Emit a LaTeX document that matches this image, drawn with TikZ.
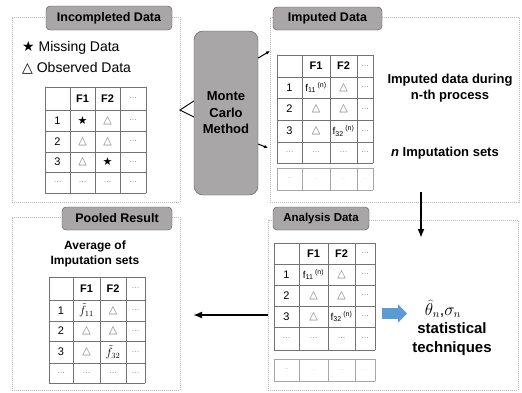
\documentclass[tikz,border=0pt]{standalone}
\usepackage{fontspec}
\setmainfont{Liberation Sans}
\newfontfamily\symfont{DejaVu Sans}
\usetikzlibrary{arrows.meta}

\definecolor{boxgray}{RGB}{168,166,166}
\definecolor{edgegray}{RGB}{80,80,80}
\definecolor{linegray}{RGB}{115,115,115}
\definecolor{arrowblue}{RGB}{91,155,213}

\newcommand{\miss}{{\symfont ★}}
\newcommand{\obs}{{\symfont\color{gray}△}}
\newcommand{\dotcell}{{\color{gray}\fontsize{8}{9}\selectfont\ldots}}
\newcommand{\faint}{{\color{gray!60}\fontsize{5}{6}\selectfont\ldots}}
\newcommand{\fimp}[1]{{\fontsize{10}{11}\selectfont f\textsubscript{#1}\,\textsuperscript{(n)}}}

\begin{document}
\begin{tikzpicture}[x=1pt,y=-1pt,
  panel/.style={draw=gray!55, dash pattern=on 1pt off 1pt, line width=0.5pt, inner sep=0},
  titlebox/.style={draw=edgegray, fill=boxgray, rounded corners=4pt, inner sep=0,
    font=\bfseries\fontsize{12.5}{14}\selectfont},
  grid/.style={draw=linegray, line width=0.6pt},
  cell/.style={inner sep=0, font=\fontsize{11}{12}\selectfont},
  hdr/.style={inner sep=0, font=\bfseries\fontsize{11}{12}\selectfont},
  note/.style={inner sep=0, align=center, font=\bfseries\fontsize{13}{15.5}\selectfont},
  thinarrow/.style={-{Latex[length=4pt,width=3.5pt]}, line width=1pt},
  bigarrow/.style={-{Latex[length=9pt,width=7pt]}, line width=1.8pt}]

\useasboundingbox (0,0) rectangle (522,392);

% riquadri tratteggiati
\node[panel, minimum width=168, minimum height=185] (inc) at (96,109.5) {};
\node[panel, minimum width=249, minimum height=185] (imp) at (394.5,109.5) {};
\node[panel, minimum width=250, minimum height=170] (ana) at (393,305) {};
\node[panel, minimum width=168, minimum height=173] (pool) at (96,303.5) {};

% titoli
\node[titlebox, minimum width=126, minimum height=24] (tinc) at (109,18) {Incompleted Data};
\node[titlebox, minimum width=109, minimum height=23] (timp) at (327.5,18.5) {Imputed Data};
\node[titlebox, minimum width=96, minimum height=23, font=\bfseries\fontsize{11.5}{13}\selectfont] (tana) at (321,218.5) {Analysis Data};
\node[titlebox, minimum width=110, minimum height=23] (tpool) at (117,218.5) {Pooled Result};

% Monte Carlo
\node[draw=edgegray, fill=boxgray, rounded corners=9pt, minimum width=64, minimum height=164,
  inner sep=0, align=center, font=\bfseries\fontsize{13}{16.5}\selectfont] (mc) at (226,113) {Monte\\Carlo\\Method};

% legenda
\node[anchor=west, inner sep=0, font=\fontsize{14}{16}\selectfont] (lmiss) at (22,48) {\miss\ Missing Data};
\node[anchor=west, inner sep=0, font=\fontsize{14}{16}\selectfont] (lobs) at (22,68) {{\symfont △}\ Observed Data};

% tabella dati incompleti
\foreach \x in {45,70,95,120,146} \draw[grid] (\x,87) -- (\x,193);
\foreach \y in {87,110,131,152,172,193} \draw[grid] (45,\y) -- (146,\y);
\node[hdr] (inc-h1) at (82.5,98.5) {F1};
\node[hdr] (inc-h2) at (107.5,98.5) {F2};
\node[cell] (inc-h3) at (133,98.5) {\dotcell};
\foreach \y/\a/\b/\c/\d [count=\r] in {120.5/1/\miss/\obs/\dotcell, 141.5/2/\obs/\obs/\dotcell,
    162/3/\obs/\miss/\dotcell, 182.5/\dotcell/\dotcell/\dotcell/\dotcell} {
  \node[cell] (inc-\r-0) at (57.5,\y) {\a};
  \node[cell] (inc-\r-1) at (82.5,\y) {\b};
  \node[cell] (inc-\r-2) at (107.5,\y) {\c};
  \node[cell] (inc-\r-3) at (133,\y) {\d};
}

% tabella dati imputati
\foreach \x in {277,302,330,357,373} \draw[grid] (\x,55) -- (\x,163);
\foreach \y in {55,77,98,120,142,163} \draw[grid] (277,\y) -- (373,\y);
\node[hdr] (imp-h1) at (316,66) {F1};
\node[hdr] (imp-h2) at (343.5,66) {F2};
\node[cell] (imp-h3) at (365,66) {\dotcell};
\foreach \y/\a/\b/\c/\d [count=\r] in {87.5/1/\fimp{11}/\obs/\dotcell, 109/2/\obs/\obs/\dotcell,
    131/3/\obs/\fimp{32}/\dotcell, 152.5/\dotcell/\dotcell/\dotcell/\dotcell} {
  \node[cell] (imp-\r-0) at (289.5,\y) {\a};
  \node[cell] (imp-\r-1) at (316,\y) {\b};
  \node[cell] (imp-\r-2) at (343.5,\y) {\c};
  \node[cell] (imp-\r-3) at (365,\y) {\d};
}
\foreach \x in {277,302,330,357,373} \draw[grid, draw=gray!70] (\x,168) -- (\x,190);
\draw[grid, draw=gray!70] (277,168) -- (373,168) (277,190) -- (373,190);
\node[cell] (imp-x0) at (289.5,179) {{\color{gray!60}\fontsize{5}{6}\selectfont\textendash}};
\node[cell] (imp-x1) at (316,179) {\faint};
\node[cell] (imp-x2) at (343.5,179) {\faint};
\node[cell] (imp-x3) at (365,179) {\faint};

\node[note] (during) at (450,88) {Imputed data during\\n-th process};
\node[note] (nsets) at (445,153) {\textit{n} Imputation sets};

% tabella analisi
\foreach \x in {274,299,328,355,375} \draw[grid] (\x,243) -- (\x,350);
\foreach \y in {243,264,285,306,327,350} \draw[grid] (274,\y) -- (375,\y);
\node[hdr] (ana-h1) at (313.5,253.5) {F1};
\node[hdr] (ana-h2) at (341.5,253.5) {F2};
\node[cell] (ana-h3) at (365,253.5) {\dotcell};
\foreach \y/\a/\b/\c/\d [count=\r] in {274.5/1/\fimp{11}/\obs/\dotcell, 295.5/2/\obs/\obs/\dotcell,
    316.5/3/\obs/\fimp{32}/\dotcell, 338.5/\dotcell/\dotcell/\dotcell/\dotcell} {
  \node[cell] (ana-\r-0) at (286.5,\y) {\a};
  \node[cell] (ana-\r-1) at (313.5,\y) {\b};
  \node[cell] (ana-\r-2) at (341.5,\y) {\c};
  \node[cell] (ana-\r-3) at (365,\y) {\d};
}
\foreach \x in {274,299,328,355,375} \draw[grid, draw=gray!70] (\x,359) -- (\x,381);
\draw[grid, draw=gray!70] (274,359) -- (375,359) (274,381) -- (375,381);
\node[cell] (ana-x0) at (286.5,370) {{\color{gray!60}\fontsize{5}{6}\selectfont\textendash}};
\node[cell] (ana-x1) at (313.5,370) {\faint};
\node[cell] (ana-x2) at (341.5,370) {\faint};
\node[cell] (ana-x3) at (365,370) {\faint};

\node[inner sep=0, font=\fontsize{16}{18}\selectfont] (theta) at (443,309) {$\widehat{\theta}_n$,$\sigma_n$};
\node[inner sep=0, align=center, font=\bfseries\fontsize{15}{19}\selectfont] (stat) at (452,339.5) {statistical\\techniques};

% tabella risultato
\node[inner sep=0, align=center, font=\bfseries\fontsize{12}{15.5}\selectfont] (avg) at (95,254) {Average of\\Imputation sets};
\foreach \x in {49,73,100,126,145} \draw[grid] (\x,277) -- (\x,383);
\foreach \y in {277,300,321,341,363,383} \draw[grid] (49,\y) -- (145,\y);
\node[hdr] (pool-h1) at (86.5,288.5) {F1};
\node[hdr] (pool-h2) at (113,288.5) {F2};
\node[cell] (pool-h3) at (135.5,288.5) {\dotcell};
\foreach \y/\a/\b/\c/\d [count=\r] in {310.5/1/{\fontsize{12}{13}\selectfont$\tilde{f}_{11}$}/\obs/\dotcell, 331/2/\obs/\obs/\dotcell,
    352/3/\obs/{\fontsize{12}{13}\selectfont$\tilde{f}_{32}$}/\dotcell, 373/\dotcell/\dotcell/\dotcell/\dotcell} {
  \node[cell] (pool-\r-0) at (61,\y) {\a};
  \node[cell] (pool-\r-1) at (86.5,\y) {\b};
  \node[cell] (pool-\r-2) at (113,\y) {\c};
  \node[cell] (pool-\r-3) at (135.5,\y) {\d};
}

% collegamenti
\coordinate (mcin) at (180,110);
\draw[line width=0.9pt] ([yshift=12pt]mc.west) -- (mcin) -- ([yshift=-4pt]mc.west);
\coordinate (impa) at (270,51);
\coordinate (impb) at (268,148);
\draw[thinarrow] ([yshift=55pt]mc.east) -- (impa);
\draw[thinarrow] ([yshift=-31pt]mc.east) -- (impb);
\coordinate (downs) at (421,192);
\coordinate (downe) at (421,238);
\draw[bigarrow] (downs) -- (downe);
\coordinate (poolin) at (193,315);
\draw[bigarrow] (ana.west |- poolin) -- (poolin);
\coordinate (blues) at (382,313.5);
\coordinate (bluee) at (407,313.5);
\draw[arrowblue, line width=11pt, -{Triangle[length=9pt,width=18pt]}] (blues) -- (bluee);

\end{tikzpicture}
\end{document}
